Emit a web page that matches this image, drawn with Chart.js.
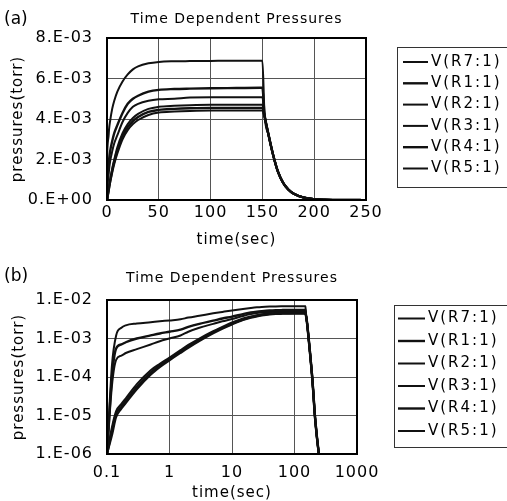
<!DOCTYPE html>
<html>
<head>
<meta charset="utf-8">
<script src="https://cdn.jsdelivr.net/npm/chart.js@4.4.0/dist/chart.umd.min.js"></script>
<style>
html, body { margin: 0; padding: 0; background: #fff; overflow: hidden; }
#wrapA { position: absolute; left: 0; top: 0; width: 507px; height: 250px; }
#wrapB { position: absolute; left: 0; top: 250px; width: 507px; height: 251px; }
</style>
</head>
<body>
<div id="wrapA"><canvas id="chartA" width="507" height="250"></canvas></div>
<div id="wrapB"><canvas id="chartB" width="507" height="251"></canvas></div>
<script>
// time points (sec) shared by both panels
var times = [0.1, 0.12, 0.14, 0.17, 0.2, 0.3, 0.5, 0.7, 1, 1.5, 2, 3, 5, 7, 10, 15, 20, 25, 30, 40,
  50, 65, 80, 100, 125, 148, 150, 152, 156, 160, 165, 170, 175, 180, 190, 200, 210, 225, 245];

// pressures (torr)
var pR7 = [1e-6, 2e-4, 1.2e-3, 1.9e-3, 2.2e-3, 2.45e-3, 2.65e-3, 2.8e-3, 2.95e-3, 3.15e-3, 3.5e-3, 3.9e-3, 4.5e-3, 4.9e-3, 5.35e-3, 5.85e-3, 6.2e-3, 6.45e-3, 6.6e-3, 6.75e-3,
  6.82e-3, 6.85e-3, 6.86e-3, 6.87e-3, 6.88e-3, 6.88e-3, 6.88e-3, 4.3e-3, 3.2e-3, 2.3e-3, 1.4e-3, 8.5e-4, 5.2e-4, 3.2e-4, 1.2e-4, 4e-5, 1.2e-5, 3.5e-6, 1e-6];
var pR1 = [1e-6, 1e-4, 5.5e-4, 7e-4, 8e-4, 1.0e-3, 1.2e-3, 1.35e-3, 1.5e-3, 1.7e-3, 2.0e-3, 2.4e-3, 2.9e-3, 3.3e-3, 3.7e-3, 4.3e-3, 4.75e-3, 5.0e-3, 5.15e-3, 5.35e-3,
  5.44e-3, 5.48e-3, 5.5e-3, 5.52e-3, 5.53e-3, 5.54e-3, 5.54e-3, 4.25e-3, 3.2e-3, 2.3e-3, 1.4e-3, 8.5e-4, 5.2e-4, 3.2e-4, 1.2e-4, 4e-5, 1.2e-5, 3.5e-6, 1e-6];
var pR2 = [1e-6, 6e-5, 2.8e-4, 3.6e-4, 4.2e-4, 5.3e-4, 7e-4, 8.5e-4, 1.0e-3, 1.2e-3, 1.5e-3, 1.9e-3, 2.4e-3, 2.8e-3, 3.2e-3, 3.85e-3, 4.3e-3, 4.6e-3, 4.75e-3, 4.9e-3,
  4.97e-3, 5.0e-3, 5.06e-3, 5.07e-3, 5.07e-3, 5.08e-3, 5.08e-3, 4.2e-3, 3.2e-3, 2.3e-3, 1.4e-3, 8.5e-4, 5.2e-4, 3.2e-4, 1.2e-4, 4e-5, 1.2e-5, 3.5e-6, 1e-6];
var pR3 = [1e-6, 5e-6, 1.3e-5, 2e-5, 2.8e-5, 6.5e-5, 1.5e-4, 2.2e-4, 3.2e-4, 5e-4, 6.8e-4, 1.0e-3, 1.55e-3, 2.0e-3, 2.6e-3, 3.3e-3, 3.75e-3, 4.05e-3, 4.25e-3, 4.5e-3,
  4.6e-3, 4.65e-3, 4.68e-3, 4.7e-3, 4.7e-3, 4.7e-3, 4.7e-3, 4.2e-3, 3.2e-3, 2.3e-3, 1.4e-3, 8.5e-4, 5.2e-4, 3.2e-4, 1.2e-4, 4e-5, 1.2e-5, 3.5e-6, 1e-6];
var pR4 = [1e-6, 4e-6, 1.1e-5, 1.7e-5, 2.4e-5, 5.5e-5, 1.3e-4, 2e-4, 2.9e-4, 4.6e-4, 6.2e-4, 9.2e-4, 1.45e-3, 1.9e-3, 2.45e-3, 3.15e-3, 3.6e-3, 3.9e-3, 4.1e-3, 4.35e-3,
  4.45e-3, 4.5e-3, 4.53e-3, 4.55e-3, 4.55e-3, 4.55e-3, 4.55e-3, 4.15e-3, 3.2e-3, 2.3e-3, 1.4e-3, 8.5e-4, 5.2e-4, 3.2e-4, 1.2e-4, 4e-5, 1.2e-5, 3.5e-6, 1e-6];
var pR5 = [1e-6, 3e-6, 9e-6, 1.5e-5, 2.1e-5, 4.8e-5, 1.15e-4, 1.8e-4, 2.7e-4, 4.2e-4, 5.7e-4, 8.5e-4, 1.35e-3, 1.78e-3, 2.3e-3, 3.0e-3, 3.45e-3, 3.75e-3, 3.95e-3, 4.2e-3,
  4.32e-3, 4.37e-3, 4.4e-3, 4.42e-3, 4.42e-3, 4.42e-3, 4.42e-3, 4.1e-3, 3.2e-3, 2.3e-3, 1.4e-3, 8.5e-4, 5.2e-4, 3.2e-4, 1.2e-4, 4e-5, 1.2e-5, 3.5e-6, 1e-6];

var seriesNames = ['V(R7:1)', 'V(R1:1)', 'V(R2:1)', 'V(R3:1)', 'V(R4:1)', 'V(R5:1)'];
var seriesValues = [pR7, pR1, pR2, pR3, pR4, pR5];
var lineWidths = [2, 2.4, 2, 2, 2.4, 2];

var xTicksA = [0, 50, 100, 150, 200, 250];
var yTicksA = [0, 0.002, 0.004, 0.006, 0.008];
var xTicksB = [0.1, 1, 10, 100, 1000];
var yTicksB = [1e-6, 1e-5, 1e-4, 1e-3, 1e-2];

var FONT = "'DejaVu Sans', sans-serif";

function sciLabel(v) {
    if (v === 0) return '0.E+00';
    var e = Math.floor(Math.log10(v) + 1e-9);
    var m = Math.round(v / Math.pow(10, e));
    var a = Math.abs(e);
    return m + '.E' + (e < 0 ? '-' : '+') + (a < 10 ? '0' : '') + a;
}

function makeDatasets() {
    return seriesNames.map(function (name, k) {
        return {
            label: name,
            data: times.map(function (t, i) { return { x: t, y: seriesValues[k][i] }; }),
            borderColor: '#111',
            borderWidth: lineWidths[k],
            pointRadius: 0,
            fill: false,
            cubicInterpolationMode: 'monotone'
        };
    });
}

// frame, panel tag, title and boxed legend
var decorPlugin = {
    id: 'decor',
    beforeDraw: function (chart) {
        chart.ctx.letterSpacing = '1px';
    },
    afterDraw: function (chart, args, o) {
        var ctx = chart.ctx;
        var ca = chart.chartArea;
        ctx.save();
        ctx.strokeStyle = '#000';
        ctx.lineWidth = 2;
        ctx.strokeRect(ca.left, ca.top, ca.right - ca.left, ca.bottom - ca.top);

        ctx.fillStyle = '#000';
        ctx.textBaseline = 'middle';
        ctx.letterSpacing = '0px';
        ctx.font = '17px ' + FONT;
        ctx.textAlign = 'left';
        ctx.fillText(o.tag, 4, o.tagY);

        ctx.letterSpacing = '1px';
        ctx.font = '14px ' + FONT;
        ctx.textAlign = 'center';
        ctx.fillText('Time Dependent Pressures', (ca.left + ca.right) / 2, o.titleY);

        // legend box (runs off the right edge like the original)
        ctx.lineWidth = 1;
        ctx.strokeStyle = '#333';
        ctx.strokeRect(o.boxLeft + 0.5, o.boxTop + 0.5, 140, o.boxBottom - o.boxTop);
        ctx.font = '15px ' + FONT;
        ctx.letterSpacing = '2px';
        ctx.textAlign = 'left';
        chart.data.datasets.forEach(function (ds, i) {
            var y = o.rowY + i * o.rowStep;
            ctx.strokeStyle = '#111';
            ctx.lineWidth = ds.borderWidth;
            ctx.beginPath();
            ctx.moveTo(o.lineX0, y);
            ctx.lineTo(o.lineX1, y);
            ctx.stroke();
            ctx.fillText(ds.label, o.textX, y);
        });
        ctx.restore();
    }
};

function axisCommon() {
    return {
        grid: { color: '#555', lineWidth: 1, drawTicks: false },
        border: { display: false },
        ticks: { color: '#000', font: { family: FONT, size: 16 } },
        title: { display: true, color: '#000', font: { family: FONT, size: 15, lineHeight: 1 } }
    };
}

// (a) linear
var xa = axisCommon();
xa.type = 'linear';
xa.min = 0;
xa.max = 250;
xa.ticks.padding = 3;
xa.title.text = 'time(sec)';
xa.title.padding = { top: 0, bottom: 2.5 };
xa.afterBuildTicks = function (s) { s.ticks = xTicksA.map(function (v) { return { value: v }; }); };
xa.afterFit = function (s) { s.height = 50; };

var ya = axisCommon();
ya.type = 'linear';
ya.min = 0;
ya.max = 0.008;
ya.ticks.padding = 14;
ya.ticks.callback = function (v) { return sciLabel(v); };
ya.title.text = 'pressures(torr)';
ya.title.padding = { top: 2.5, bottom: 0 };
ya.afterBuildTicks = function (s) { s.ticks = yTicksA.map(function (v) { return { value: v }; }); };
ya.afterFit = function (s) { s.width = 99; };

new Chart(document.getElementById('chartA').getContext('2d'), {
    type: 'line',
    data: { datasets: makeDatasets() },
    options: {
        responsive: false,
        animation: false,
        layout: { padding: { left: 8, right: 141, top: 38, bottom: 0 } },
        scales: { x: xa, y: ya },
        plugins: {
            legend: { display: false },
            tooltip: { enabled: false },
            decor: {
                tag: '(a)', tagY: 20, titleY: 19,
                boxLeft: 397, boxTop: 47, boxBottom: 187,
                rowY: 62, rowStep: 21.3, lineX0: 403, lineX1: 428, textX: 431
            }
        }
    },
    plugins: [decorPlugin]
});

// (b) log-log
var xb = axisCommon();
xb.type = 'logarithmic';
xb.min = 0.1;
xb.max = 1000;
xb.ticks.padding = 9;
xb.ticks.callback = function (v) { return v < 1 ? '0.1' : String(v); };
xb.title.text = 'time(sec)';
xb.title.padding = { top: 0, bottom: 0 };
xb.afterBuildTicks = function (s) { s.ticks = xTicksB.map(function (v) { return { value: v }; }); };
xb.afterFit = function (s) { s.height = 47; };

var yb = axisCommon();
yb.type = 'logarithmic';
yb.min = 1e-6;
yb.max = 1e-2;
yb.ticks.padding = 14;
yb.ticks.callback = function (v) { return sciLabel(v); };
yb.title.text = 'pressures(torr)';
yb.title.padding = { top: 3.5, bottom: 0 };
yb.afterBuildTicks = function (s) { s.ticks = yTicksB.map(function (v) { return { value: v }; }); };
yb.afterFit = function (s) { s.width = 99; };

new Chart(document.getElementById('chartB').getContext('2d'), {
    type: 'line',
    data: { datasets: makeDatasets() },
    options: {
        responsive: false,
        animation: false,
        layout: { padding: { left: 8, right: 150, top: 50, bottom: 0 } },
        scales: { x: xb, y: yb },
        plugins: {
            legend: { display: false },
            tooltip: { enabled: false },
            decor: {
                tag: '(b)', tagY: 27, titleY: 28,
                boxLeft: 394, boxTop: 55, boxBottom: 197,
                rowY: 68.5, rowStep: 22.5, lineX0: 398, lineX1: 425, textX: 428
            }
        }
    },
    plugins: [decorPlugin]
});
</script>
</body>
</html>
